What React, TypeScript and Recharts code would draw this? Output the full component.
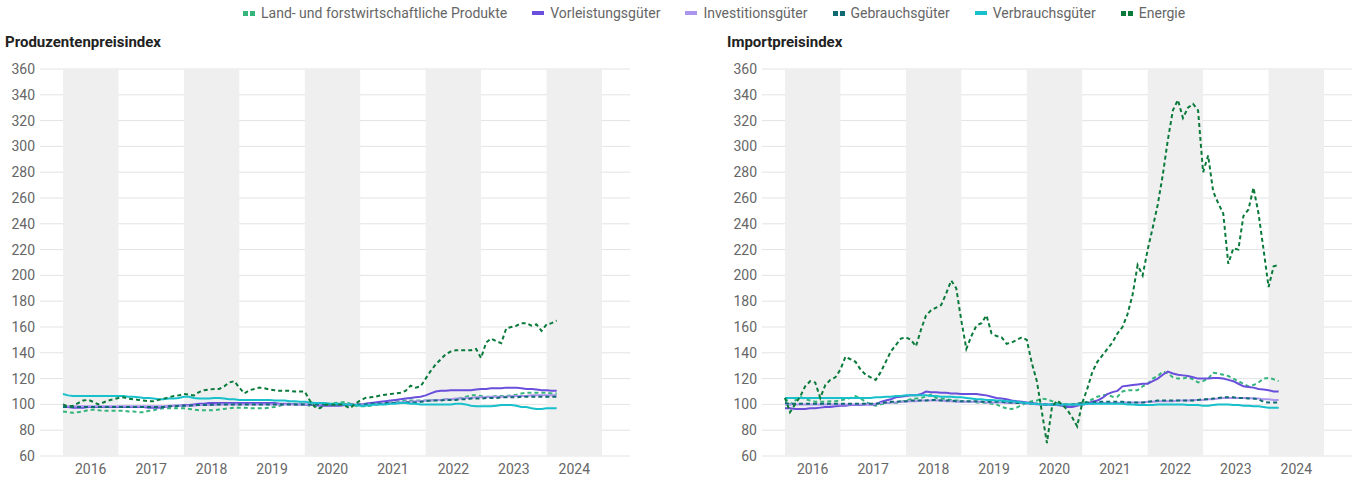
import { LineChart, Line, XAxis, YAxis, CartesianGrid, ReferenceArea } from 'recharts';

// monthly values Jan 2016 - Mar 2024, axis runs to Dec 2024
const years = [2016, 2017, 2018, 2019, 2020, 2021, 2022, 2023, 2024];
const shadedYears = [2016, 2018, 2020, 2022, 2024];
const yTicks = [60, 80, 100, 120, 140, 160, 180, 200, 220, 240, 260, 280, 300, 320, 340, 360];

// Produzentenpreisindex
const ppiLfp = [
  94.5, 94, 93.5, 94, 94.5, 95.5, 96, 95.5, 95, 95, 95, 95,
  95, 94.5, 94.5, 94, 94, 95, 95.5, 96.5, 97, 97, 97, 97,
  97, 96.5, 96, 95.5, 95.5, 95.5, 95.5, 96, 96.5, 97, 97.5, 97.5,
  97.5, 97, 97, 97, 97, 97.5, 98, 99, 100, 100.5, 100.5, 100.5,
  100, 99, 98.5, 98.5, 99.5, 100.5, 101, 101.5, 102, 100.5, 99, 98.5,
  98.5, 99, 99.5, 100, 100.5, 101.5, 102, 102.5, 103, 103, 103, 103,
  103, 103, 103.5, 103.5, 104, 104, 104, 105, 106, 107, 107, 106.5,
  106, 106, 106.5, 106.5, 106.5, 107, 107.5, 108.5, 109, 109, 109, 109,
  109, 108.5, 108.5,
];
const ppiVorleistung = [
  98, 98, 97.5, 97.5, 97.5, 98, 98, 98, 98, 98, 98, 98,
  98, 98, 98, 98, 98, 97.5, 97.5, 97.5, 98, 98.5, 99, 99,
  99.5, 99.5, 100, 100.5, 100.5, 101, 101, 101, 101, 101, 101, 101,
  101, 101, 101, 101, 101, 101, 101, 100.5, 100.5, 100.5, 100, 100,
  100, 99.5, 99.5, 99, 99, 99, 99, 99, 99.5, 99.5, 99.5, 100,
  100.5, 101, 101.5, 102, 102.5, 103, 103.5, 104, 104.5, 105, 105.5, 106,
  107, 108.5, 110, 110.5, 110.5, 111, 111, 111, 111, 111, 111.5, 112,
  112, 112.5, 112.5, 112.5, 113, 113, 113, 112.5, 112, 112, 111.5, 111,
  111, 110.5, 110.5,
];
const ppiInvest = [
  98.5, 98.5, 98.5, 98.5, 98.5, 98.5, 98.5, 98.5, 98.5, 98.5, 98.5, 98.5,
  98.5, 98.5, 98.5, 98.5, 98.5, 98.5, 98.5, 98.5, 98.5, 99, 99, 99,
  99, 99, 99, 99.5, 99.5, 99.5, 99.5, 100, 100, 100, 100, 100,
  100, 100, 100, 100, 100, 100, 100, 100, 100, 100, 100, 100,
  100, 100, 100, 100, 100, 100, 100, 100, 100, 100, 100, 100,
  100, 100, 100, 100.5, 100.5, 101, 101.5, 101.5, 102, 102, 102.5, 102.5,
  103, 103, 103.5, 103.5, 104, 104, 104.5, 104.5, 105, 105, 105.5, 105.5,
  105.5, 106, 106, 106, 106, 106.5, 106.5, 106.5, 106.5, 107, 107, 107,
  107, 107, 107,
];
const ppiGebrauch = [
  98, 98, 98, 98, 98, 98, 98, 98, 98, 98, 98, 98,
  98, 98, 98, 98, 98, 98, 98, 98, 98, 98.5, 98.5, 99,
  99, 99, 99.5, 99.5, 99.5, 99.5, 100, 100, 100, 100, 100, 100,
  100, 100, 100, 100, 100, 100, 100, 100, 100, 100, 100, 100,
  100, 100, 100, 100, 100, 100, 100, 100, 100, 100, 100, 100,
  100, 100.5, 100.5, 100.5, 101, 101, 101, 101, 101.5, 101.5, 101.5, 102,
  102.5, 103, 103, 103, 103.5, 103.5, 103.5, 104, 104, 104.5, 104.5, 104.5,
  105, 105, 105, 105.5, 105.5, 105.5, 105.5, 106, 106, 106, 106, 106,
  106, 106, 106,
];
const ppiVerbrauch = [
  108, 107, 106.5, 106.5, 106.5, 106.5, 106.5, 106.5, 106.5, 106.5, 106.5, 106.5,
  106.5, 106, 106, 105.5, 105, 105, 104.5, 104, 104, 104.5, 104.5, 105,
  106, 106, 105, 104.5, 104.5, 104.5, 105, 105, 104.5, 104, 104, 103.5,
  103.5, 103.5, 103.5, 103.5, 103.5, 103.5, 103, 103, 103, 102.5, 102.5, 102,
  102, 101.5, 101, 101, 101, 100.5, 100.5, 100.5, 100, 100, 99.5, 99,
  99, 99.5, 100, 100, 100, 100.5, 100.5, 101, 101, 100.5, 100.5, 100,
  100, 100, 100, 100, 100, 100, 100.5, 100.5, 100, 99, 98.5, 98.5,
  98.5, 98.5, 99, 99.5, 99.5, 99.5, 99, 98, 98, 97, 96.5, 96.5,
  97, 97, 97,
];
const ppiEnergie = [
  100, 98.5, 99, 101, 103, 103.5, 102, 100, 101.5, 103, 104, 105,
  105.5, 104.5, 104, 103.5, 103, 102.5, 102.5, 103.5, 104.5, 105.5, 106.5, 107,
  108, 107.5, 107, 109.5, 111, 111.5, 112, 112, 114, 117, 118, 113,
  108.5, 111, 112, 113, 112.5, 111.5, 111, 110.5, 110.5, 110.5, 110, 110,
  110, 103, 98, 97, 99.5, 100, 99.5, 100, 99, 97, 100.5, 103,
  105, 105.5, 106, 107, 107.5, 108, 108.5, 109, 110.5, 114.5, 113, 114,
  120, 126, 131, 135, 139, 141, 142, 142, 142, 142, 143, 136,
  148, 151, 149, 147.5, 159, 160, 161, 163, 163, 161, 162, 157,
  162, 163, 165,
];

// Importpreisindex
const impLfp = [
  105, 100, 103, 106, 104, 103, 102, 102, 102, 102.5, 102.5, 103,
  104, 105, 106.5, 104.5, 102, 100, 99, 100, 101, 101, 101, 102,
  103, 104, 104.5, 105, 106, 107.5, 105, 104.5, 104, 103.5, 103, 102.5,
  102, 102, 101.5, 101.5, 101, 100.5, 100, 98, 97, 96.5, 97.5, 99.5,
  101, 102.5, 103, 104.5, 104, 102.5, 101, 100, 100, 100, 100.5, 101,
  102, 104, 106, 107, 107.5, 106, 106, 110, 111, 111, 111, 114,
  116, 120, 122, 125.5, 124, 121, 120, 120, 121, 119.5, 117, 118,
  120, 124.5, 124, 123, 122, 120, 118, 116, 114, 115, 117, 120,
  120.5, 119.5, 118,
];
const impVorleistung = [
  97, 97, 96.5, 96.5, 96.5, 97, 97, 97.5, 98, 98, 98.5, 99,
  99, 99.5, 99.5, 99.5, 100, 100, 100, 102, 103, 104, 105.5, 106,
  106.5, 107, 107, 108, 110, 109.5, 109.5, 109, 109, 108.5, 108.5, 108,
  108, 108, 108, 107.5, 107, 106, 105, 104.5, 104, 103, 102.5, 102,
  101.5, 101, 100.5, 100, 100, 99.5, 99.5, 99, 98, 98, 99, 100,
  100.5, 102, 103, 105, 108, 109.5, 110.5, 114, 114.5, 115, 115.5, 116,
  116, 118, 120, 123, 125.5, 124, 123, 122.5, 122, 121, 120, 120,
  120, 120.5, 120.5, 120, 119, 118, 116, 114, 113.5, 113, 112, 111.5,
  111, 110, 110,
];
const impInvest = [
  100, 100, 100, 100, 100, 100, 100, 100, 100, 100, 100, 100,
  100, 100, 100, 100, 100, 100, 100.5, 101, 101, 101.5, 101.5, 102,
  102, 102.5, 102.5, 103, 103, 103, 103, 103, 102.5, 102.5, 102, 102,
  102, 102, 102, 102, 101.5, 101.5, 101.5, 101.5, 101, 101, 101, 101,
  100.5, 100.5, 100, 100, 100, 100, 100, 100, 99.5, 99.5, 100, 100,
  100.5, 100.5, 101, 101, 101, 101, 101, 101.5, 101.5, 101.5, 101.5, 101.5,
  102, 102, 102.5, 102.5, 102.5, 102.5, 103, 103, 103, 103.5, 103.5, 103.5,
  104, 104, 104.5, 105, 105, 105, 105, 105, 105, 104.5, 104.5, 104,
  104, 103.5, 103.5,
];
const impGebrauch = [
  101, 100.5, 100.5, 100.5, 100.5, 100.5, 100.5, 100.5, 100.5, 100.5, 100.5, 100.5,
  100.5, 100.5, 100.5, 100.5, 100.5, 100.5, 100.5, 101, 101.5, 102, 102, 102.5,
  102.5, 103, 103, 103, 103, 103.5, 103.5, 103, 103, 103, 102.5, 102.5,
  102.5, 102.5, 102.5, 102, 102, 102, 102, 102, 101.5, 101.5, 101, 101,
  101, 100.5, 100.5, 100, 100, 100, 100, 100, 100, 100, 100.5, 101,
  101.5, 101.5, 102, 102, 102, 102, 102, 102, 101.5, 101.5, 101.5, 101.5,
  102, 102.5, 103, 103, 103, 103, 103, 103, 103, 103, 103.5, 104,
  104, 104.5, 105, 105.5, 105.5, 105.5, 105, 105, 104.5, 104.5, 104, 102,
  101.5, 101.5, 101.5,
];
const impVerbrauch = [
  105, 105, 105, 105, 105, 105, 105, 105, 105, 105, 105, 105,
  105, 105, 105, 105, 105, 105, 105.5, 105.5, 106, 106, 106.5, 106.5,
  107, 107, 107, 107, 107, 106.5, 106.5, 106, 106, 106, 105.5, 105.5,
  105, 104.5, 104, 104, 103.5, 103.5, 103, 103, 102.5, 102.5, 102, 101.5,
  101, 100.5, 100.5, 100, 100, 100, 100, 100, 100, 100, 100, 100,
  100.5, 100.5, 100.5, 100.5, 100.5, 100.5, 100.5, 100.5, 100, 100, 99.5, 99.5,
  99.5, 99.5, 100, 100, 100, 100, 100, 100, 99.5, 99.5, 99.5, 99,
  99, 99.5, 100, 100, 100, 99.5, 99.5, 99, 99, 98.5, 98.5, 98,
  97.5, 97.5, 97.5,
];
const impEnergie = [
  105, 94, 100, 106, 114, 118, 117, 105, 115, 119, 121, 127,
  137, 135, 133, 127, 123, 121, 119, 125, 133, 141, 146, 151,
  152, 150, 145, 158, 169, 173, 175, 177, 186, 196, 190, 165,
  143, 153, 161, 163, 169, 155, 153, 152, 147, 148, 150, 152,
  150, 132, 118, 94, 70, 98, 103, 100, 96, 90, 83, 101,
  112, 125, 133, 138, 143, 148, 155, 160, 170, 185, 208, 200,
  220, 237, 255, 278, 305, 328, 336, 322, 330, 333, 328, 280,
  293, 265, 256, 248, 209, 221, 220, 246, 251, 268, 248, 220,
  191, 207, 208,
];

const series = [
  { key: 'lfp', name: 'Land- und forstwirtschaftliche Produkte', color: '#35b57c', dashed: true },
  { key: 'vor', name: 'Vorleistungsgüter', color: '#6a4fdc', dashed: false },
  { key: 'inv', name: 'Investitionsgüter', color: '#ab95ee', dashed: false },
  { key: 'geb', name: 'Gebrauchsgüter', color: '#0f6a73', dashed: true },
  { key: 'ver', name: 'Verbrauchsgüter', color: '#17c0cb', dashed: false },
  { key: 'ene', name: 'Energie', color: '#0a7a3b', dashed: true },
];

const font = 'Roboto, "Noto Sans", sans-serif';

function buildRows(values: Record<string, number[]>) {
  const rows: Record<string, number | undefined>[] = [];
  years.forEach((_, yi) => {
    for (let m = 0; m < 12; m++) {
      const i = yi * 12 + m;
      const row: Record<string, number | undefined> = { idx: i };
      Object.keys(values).forEach((k) => {
        row[k] = values[k][i];
      });
      rows.push(row);
    }
  });
  return rows;
}

const ppiRows = buildRows({
  lfp: ppiLfp, vor: ppiVorleistung, inv: ppiInvest, geb: ppiGebrauch, ver: ppiVerbrauch, ene: ppiEnergie,
});
const impRows = buildRows({
  lfp: impLfp, vor: impVorleistung, inv: impInvest, geb: impGebrauch, ver: impVerbrauch, ene: impEnergie,
});

function Panel({ title, rows, left }: { title: string; rows: any[]; left: number }) {
  return (
    <>
      <div
        style={{
          position: 'absolute', left: left + 5, top: 34, fontFamily: font, fontWeight: 700,
          fontSize: 15, color: '#222', lineHeight: '16px',
        }}
      >
        {title}
      </div>
      <div style={{ position: 'absolute', left, top: 60 }}>
        <LineChart width={630} height={420} data={rows} margin={{ top: 9, right: 0, bottom: 0, left: 0 }}>
          {shadedYears.map((y) => {
            const start = (y - years[0]) * 12;
            return (
              <ReferenceArea
                key={y}
                x1={start}
                x2={start + 11}
                y1={60}
                y2={360}
                fill="#efefef"
                fillOpacity={1}
                stroke="none"
              />
            );
          })}
          <CartesianGrid vertical={false} stroke="#e3e3e3" />
          <XAxis
            type="number"
            dataKey="idx"
            domain={[0, 107]}
            ticks={years.map((_, i) => i * 12 + 5.5)}
            tickFormatter={(v: number) => String(years[Math.floor(v / 12)])}
            interval={0}
            axisLine={false}
            tickLine={false}
            padding={{ left: 23, right: 28 }}
            height={24}
            tick={{ fill: '#666', fontSize: 14, fontFamily: font }}
          />
          <YAxis
            domain={[60, 360]}
            ticks={yTicks}
            interval={0}
            axisLine={false}
            tickLine={false}
            width={40}
            tickSize={4}
            tickMargin={1}
            tick={{ fill: '#666', fontSize: 14, fontFamily: font }}
          />
          {series.map((s) => (
            <Line
              key={s.key}
              type="linear"
              dataKey={s.key}
              name={s.name}
              stroke={s.color}
              strokeWidth={2}
              strokeDasharray={s.dashed ? '4 3' : undefined}
              dot={false}
              activeDot={false}
              isAnimationActive={false}
            />
          ))}
        </LineChart>
      </div>
    </>
  );
}

function LegendIcon({ color, dashed }: { color: string; dashed: boolean }) {
  if (dashed) {
    return (
      <span style={{ display: 'inline-flex', gap: 2, marginRight: 6 }}>
        <span style={{ width: 5, height: 5, background: color }} />
        <span style={{ width: 5, height: 5, background: color }} />
      </span>
    );
  }
  return <span style={{ width: 12, height: 4, background: color, marginRight: 6 }} />;
}

export default function App() {
  return (
    <div style={{ position: 'absolute', left: 0, top: 0, width: 1357, height: 481, background: '#fff' }}>
      <div
        style={{
          position: 'absolute', left: 243, top: 5, display: 'flex', alignItems: 'center', gap: 25,
          fontFamily: font, fontSize: 14, color: '#666', whiteSpace: 'nowrap',
        }}
      >
        {series.map((s) => (
          <span key={s.key} style={{ display: 'flex', alignItems: 'center' }}>
            <LegendIcon color={s.color} dashed={s.dashed} />
            {s.name}
          </span>
        ))}
      </div>
      <Panel title="Produzentenpreisindex" rows={ppiRows} left={0} />
      <Panel title="Importpreisindex" rows={impRows} left={722} />
    </div>
  );
}
